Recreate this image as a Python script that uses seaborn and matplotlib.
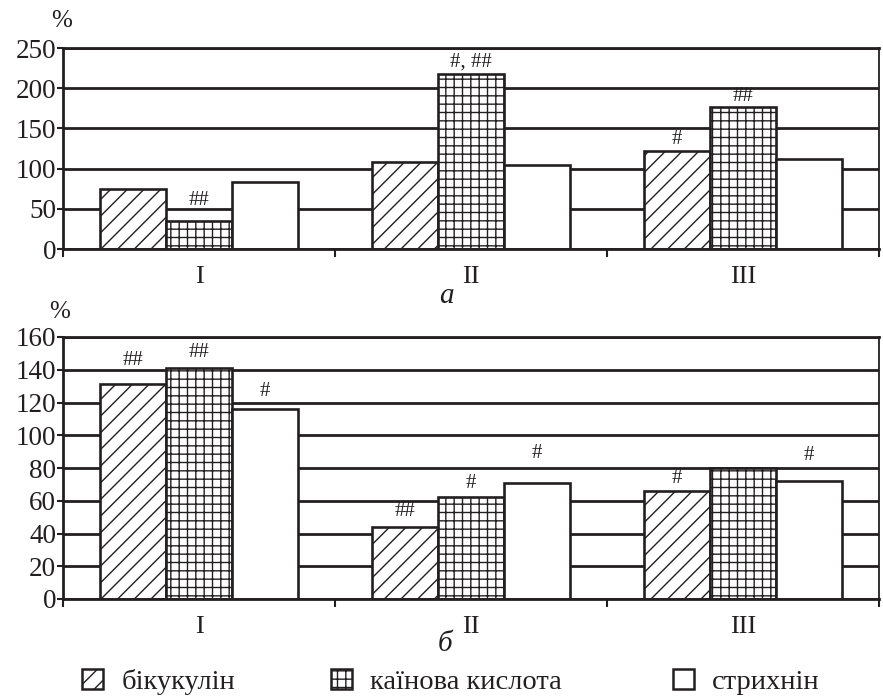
import numpy as np
import pandas as pd
import matplotlib
matplotlib.use("Agg")
import matplotlib.pyplot as plt
import seaborn as sns
from matplotlib.patches import Patch

# --- data -------------------------------------------------------------
groups = ["I", "II", "III"]
agents = ["бікукулін", "каїнова кислота", "стрихнін"]

# panel а
bicuculline_a = [75, 108, 122]
kainic_a = [35, 218, 176]
strychnine_a = [83, 105, 112]
marks_bic_a = ["", "", "#"]
marks_kain_a = ["##", "#, ##", "##"]
marks_str_a = ["", "", ""]

# panel б
bicuculline_b = [131, 44, 66]
kainic_b = [141, 62, 80]
strychnine_b = [116, 71, 72]
marks_bic_b = ["##", "##", "#"]
marks_kain_b = ["##", "#", ""]
marks_str_b = ["#", "#", "#"]

yticks_a = [0, 50, 100, 150, 200, 250]
yticks_b = [0, 20, 40, 60, 80, 100, 120, 140, 160]

# --- style ------------------------------------------------------------
INK = "#231f20"
SERIF = ["Liberation Serif", "DejaVu Serif"]
HATCHES = ["//", "++", ""]
# vertical gap (px) between a bar top and the centre of its significance mark
mark_gap_a = [[0, 0, 11], [20, 12, 11], [0, 0, 0]]
mark_gap_b = [[24, 15, 12], [16, 14, 0], [18, 29, 26]]

sns.set_theme(style="white")
plt.rcParams["font.family"] = SERIF
plt.rcParams["hatch.linewidth"] = 1.0
plt.rcParams["hatch.color"] = INK

W, H = 883, 696
fig = plt.figure(figsize=(W / 100, H / 100), dpi=100)


def fig_box(x0, y0, x1, y1):
    return [x0 / W, 1 - y1 / H, (x1 - x0) / W, (y1 - y0) / H]


def panel(ax, series, marks, gaps, ymax, yticks):
    df = pd.DataFrame({
        "group": groups * len(agents),
        "agent": np.repeat(agents, len(groups)),
        "value": np.concatenate(series),
    })
    sns.barplot(data=df, x="group", y="value", hue="agent",
                order=groups, hue_order=agents, width=0.73, gap=0,
                palette=["white"] * 3, saturation=1, edgecolor=INK,
                linewidth=1.9, legend=False, errorbar=None, ax=ax)
    for k, cont in enumerate(ax.containers):
        for j, bar in enumerate(cont):
            bar.set_hatch(HATCHES[k])
            bar.set_facecolor("white")
            bar.set_edgecolor(INK)
            txt = marks[k][j]
            if txt:
                ax.annotate(txt, (bar.get_x() + bar.get_width() / 2, bar.get_height()),
                            xytext=(0, gaps[k][j] * 0.72), textcoords="offset points",
                            ha="center", va="center", fontsize=15, color=INK)
    ax.set_xlim(-0.5, len(groups) - 0.5)
    ax.set_ylim(0, ymax)
    ax.set_yticks(yticks)
    ax.set_yticklabels([str(t) for t in yticks])
    ax.set_xlabel("")
    ax.set_ylabel("")
    ax.set_axisbelow(True)
    ax.yaxis.grid(True, color=INK, linewidth=2.0)
    ax.xaxis.grid(False)
    for side in ["left", "bottom", "top"]:
        ax.spines[side].set_visible(True)
        ax.spines[side].set_color(INK)
        ax.spines[side].set_linewidth(2.0)
    ax.spines["right"].set_visible(True)
    ax.spines["right"].set_color(INK)
    ax.spines["right"].set_linewidth(1.3)
    ax.set_xticks(np.arange(-0.5, len(groups), 1.0), minor=True)
    ax.tick_params(axis="x", which="major", length=0, pad=12,
                   labelsize=19, labelcolor=INK)
    ax.tick_params(axis="x", which="minor", length=6, width=1.5,
                   color=INK, direction="out", bottom=True)
    ax.tick_params(axis="y", which="major", length=4, width=1.5,
                   color=INK, direction="out", left=True, pad=1,
                   labelsize=19.5, labelcolor=INK)


ax_a = fig.add_axes(fig_box(63, 48, 879, 249))
panel(ax_a, [bicuculline_a, kainic_a, strychnine_a],
      [marks_bic_a, marks_kain_a, marks_str_a], mark_gap_a, 250, yticks_a)

ax_b = fig.add_axes(fig_box(63, 337, 879, 599))
panel(ax_b, [bicuculline_b, kainic_b, strychnine_b],
      [marks_bic_b, marks_kain_b, marks_str_b], mark_gap_b, 160, yticks_b)

# unit marks and panel letters
fig.text(62 / W, 1 - 21 / H, "%", ha="center", va="center", fontsize=18, color=INK)
fig.text(60 / W, 1 - 312 / H, "%", ha="center", va="center", fontsize=18, color=INK)
fig.text(446 / W, 1 - 296 / H, "а", ha="center", va="center", fontsize=21,
         style="italic", color=INK)
fig.text(445 / W, 1 - 644 / H, "б", ha="center", va="center", fontsize=21,
         style="italic", color=INK)

# legend: one entry per agent, placed along the bottom row
legend_x = [82, 331, 673]
for name, hatch, x in zip(agents, HATCHES, legend_x):
    handle = Patch(facecolor="white", edgecolor=INK, hatch=hatch, linewidth=1.8)
    fig.legend(handles=[handle], labels=[name], loc="center left",
               bbox_to_anchor=(x / W, 1 - 682 / H), frameon=False,
               fontsize=20.5, handlelength=0.72, handleheight=0.72,
               handletextpad=0.66, borderpad=0, borderaxespad=0,
               labelcolor=INK)

fig.savefig("out.png", dpi=100)
